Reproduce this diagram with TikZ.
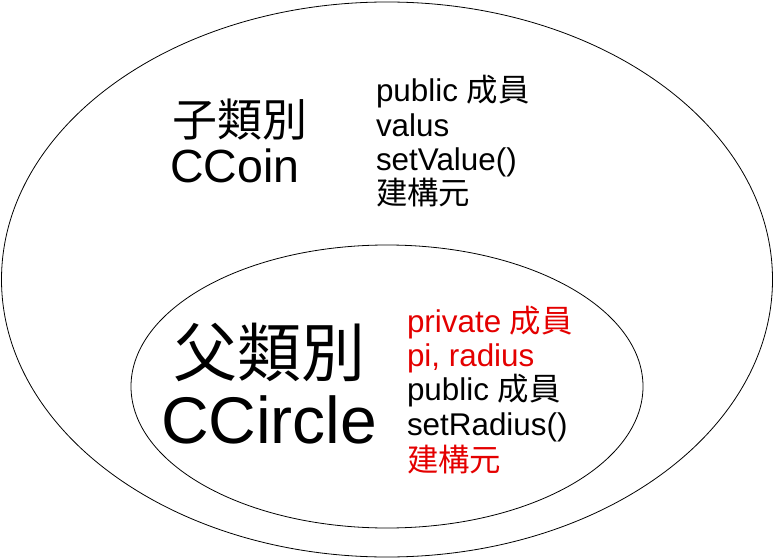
\documentclass[tikz,border=0pt]{standalone}
\usepackage{fontspec}
\setmainfont{Liberation Sans}
\newfontfamily\cjk{Noto Sans CJK TC}
\definecolor{kred}{RGB}{228,0,0}
\tikzset{
  lbl/.style={anchor=base west, inner sep=0pt, outer sep=0pt},
  member/.style={lbl, font=\fontsize{31.4bp}{34bp}\selectfont},
  redmember/.style={member, text=kred},
  bigtitle/.style={lbl, font=\fontsize{45bp}{50bp}\selectfont},
  bigname/.style={lbl, font=\fontsize{46.5bp}{50bp}\selectfont},
  hugetitle/.style={lbl, font=\fontsize{64bp}{70bp}\selectfont},
  hugename/.style={lbl, font=\fontsize{66bp}{70bp}\selectfont},
  oval/.style={draw=black, line width=0.8bp}
}
\begin{document}
\begin{tikzpicture}[x=1bp, y=-1bp]
\useasboundingbox (0,0) rectangle (774,558);
% ellipses
\draw[oval] (387,279.5) ellipse [x radius=385.5, y radius=277.5];
\draw[oval] (387,386.5) ellipse [x radius=256, y radius=141.5];
% subclass
\node[bigtitle] (subt) at (172,137) {\cjk 子類別};
\node[bigname] (subn) at (170,183) {CCoin};
\node[member] (s1) at (376,102) {public \cjk{成員}};
\node[member] (s2) at (376,137) {valus};
\node[member] (s3) at (376,171) {setValue()};
\node[member] (s4) at (376,205) {\cjk 建構元};
% parent class
\node[hugetitle] (part) at (173,376) {\cjk 父類別};
\node[hugename] (parn) at (161,443) {CCircle};
\node[redmember] (p1) at (407,332) {private \cjk{成員}};
\node[redmember] (p2) at (407,366) {pi, radius};
\node[member] (p3) at (407,400) {public \cjk{成員}};
\node[member] (p4) at (407,435) {setRadius()};
\node[redmember] (p5) at (407,471) {\cjk 建構元};
\end{tikzpicture}
\end{document}
